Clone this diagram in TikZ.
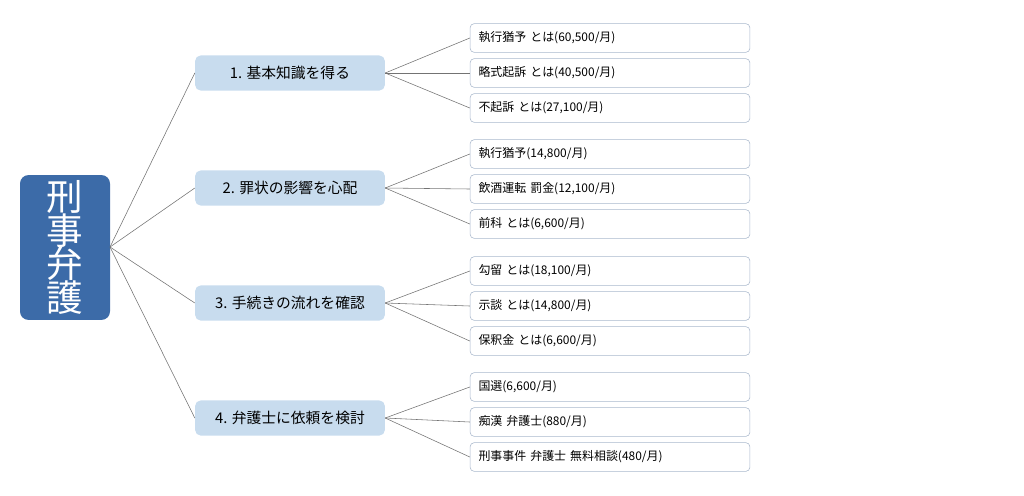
\documentclass[tikz,border=0pt]{standalone}
\usepackage{fontspec}
\newfontfamily\jp{Noto Sans CJK JP}
\usetikzlibrary{shapes,calc}
\definecolor{rootblue}{HTML}{3C6BA8}
\definecolor{lightblue}{HTML}{C8DCEE}
\definecolor{leafline}{HTML}{A9B8CC}
\tikzstyle{edge}=[draw=gray!90!black, line width=0.4pt]
\tikzstyle{rootV}=[rectangle, rounded corners=6pt, fill=rootblue, text=white, minimum width=64pt, minimum height=103pt, inner sep=0pt, font=\jp\fontsize{26}{30}\selectfont, align=center]
\tikzstyle{topicV}=[rectangle, rounded corners=4pt, fill=lightblue, minimum width=135pt, minimum height=25pt, inner sep=0pt, font=\jp\fontsize{10.5}{12}\selectfont]
\tikzstyle{leafV}=[rectangle, rounded corners=3pt, draw=leafline, fill=white, minimum width=199pt, minimum height=20.5pt, inner xsep=6pt, inner ysep=0pt, text width=187pt, align=left, font=\jp\fontsize{8.5}{10}\selectfont]
\begin{document}
\begin{tikzpicture}[x=0.025cm, y=-0.025cm]
      \useasboundingbox (0,0) rectangle (1024,495);
      \node(root) [rootV] at (65, 247.5){刑\\[-6pt]事\\[-6pt]弁\\[-6pt]護};
      \node(t1) [topicV] at (290, 73){1. 基本知識を得る};
      \node(t2) [topicV] at (290, 188){2. 罪状の影響を心配};
      \node(t3) [topicV] at (290, 303){3. 手続きの流れを確認};
      \node(t4) [topicV] at (290, 418){4. 弁護士に依頼を検討};
      \node(l1) [leafV] at (610, 38){執行猶予 とは(60,500/月)};
      \node(l2) [leafV] at (610, 73){略式起訴 とは(40,500/月)};
      \node(l3) [leafV] at (610, 108){不起訴 とは(27,100/月)};
      \node(l4) [leafV] at (610, 154){執行猶予(14,800/月)};
      \node(l5) [leafV] at (610, 189){飲酒運転 罰金(12,100/月)};
      \node(l6) [leafV] at (610, 224){前科 とは(6,600/月)};
      \node(l7) [leafV] at (610, 271){勾留 とは(18,100/月)};
      \node(l8) [leafV] at (610, 306){示談 とは(14,800/月)};
      \node(l9) [leafV] at (610, 341){保釈金 とは(6,600/月)};
      \node(l10) [leafV] at (610, 387){国選(6,600/月)};
      \node(l11) [leafV] at (610, 422){痴漢 弁護士(880/月)};
      \node(l12) [leafV] at (610, 457){刑事事件 弁護士 無料相談(480/月)};
      \coordinate(hub) at (110, 247);
      \foreach \t in {t1,t2,t3,t4}
        \draw[edge] (hub) to (\t.west);
      \foreach \t/\a/\b/\c in {t1/l1/l2/l3, t2/l4/l5/l6, t3/l7/l8/l9, t4/l10/l11/l12}{
        \draw[edge] (\t.east) to (\a.west);
        \draw[edge] (\t.east) to (\b.west);
        \draw[edge] (\t.east) to (\c.west);
      }
    \end{tikzpicture}
\end{document}
